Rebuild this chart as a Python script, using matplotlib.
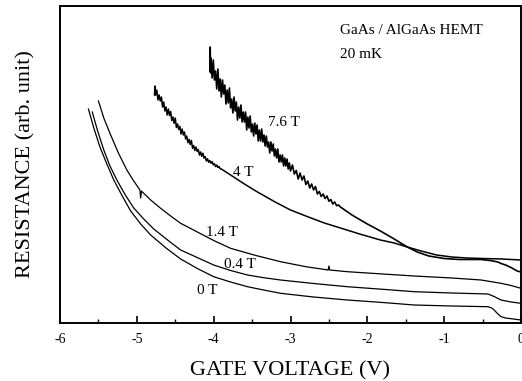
import matplotlib as mpl
mpl.use('Agg')
import matplotlib.pyplot as plt
import matplotlib.ticker as tick

# ---- data (gate voltage [V], resistance [arb.]) ----
v_0T = [-5.63, -5.56, -5.48, -5.39, -5.30, -5.19, -5.08, -4.95, -4.82, -4.62, -4.43, -4.20, -4.00,
        -3.78, -3.56, -3.35, -3.13, -2.70, -2.26, -1.80, -1.39, -0.90, -0.43, -0.38, -0.35,
        -0.30, -0.26, -0.20, -0.10, 0.0]
r_0T = [214, 195, 176, 159, 143, 127, 112, 99, 88, 75, 64, 54, 46.3,
        41, 36.3, 33, 29.7, 26, 23, 20.5, 18, 17, 16.3, 15, 13,
        9, 6.3, 5, 4, 3]

v_04T = [-5.58, -5.51, -5.43, -5.35, -5.26, -5.15, -5.04, -4.91, -4.78, -4.60, -4.43, -4.20, -4.00,
         -3.78, -3.56, -3.35, -3.13, -2.70, -2.26, -1.80, -1.39, -0.90, -0.43, -0.35, -0.26,
         -0.13, 0.0]
r_04T = [211, 192, 173, 157, 143, 128, 115, 104, 94, 83, 73, 65, 58,
         52.5, 48, 45.3, 43, 39.5, 36.3, 33.7, 31.3, 30, 29, 26.5, 23,
         21, 19.7]

v_14T = [-5.50, -5.43, -5.35, -5.24, -5.13, -5.04, -4.96, -4.95, -4.94, -4.82, -4.69, -4.56,
         -4.43, -4.22, -4.00, -3.78, -3.45, -3.13, -2.80, -2.51, -2.50, -2.49, -2.26, -1.80,
         -1.39, -0.90, -0.52, -0.26, -0.13, 0.0]
r_14T = [222, 205, 189.7, 170, 153, 142, 133, 125, 132, 123, 114.7, 107,
         99.7, 91.3, 82.5, 74.7, 67.5, 61.3, 56.3, 53, 57, 53, 51.3, 49,
         47, 45, 43, 39.7, 37.5, 34.7]

v_4T = [-4.770, -4.765, -4.755, -4.740, -4.725, -4.710, -4.695, -4.680, -4.665, -4.650, -4.635, -4.620,
        -4.605, -4.590, -4.575, -4.560, -4.545, -4.530, -4.515, -4.500, -4.485, -4.470, -4.455, -4.440,
        -4.425, -4.410, -4.395, -4.380, -4.365, -4.350, -4.335, -4.320, -4.305, -4.290, -4.275, -4.260,
        -4.245, -4.230, -4.215, -4.200, -4.185, -4.170, -4.155, -4.140, -4.125, -4.110, -4.095, -4.080,
        -4.065, -4.050, -4.035, -4.020, -4.005, -3.990, -3.975, -3.960, -3.945, -3.930, -3.915, -3.900,
        -3.85, -3.80, -3.60, -3.43, -3.20, -3.00, -2.80, -2.56, -2.35, -2.10, -1.83, -1.65,
        -1.48, -1.30, -1.10, -0.90, -0.70, -0.50, -0.25, 0.0]
r_4T = [228, 237, 228, 233, 223, 228, 222, 226, 216, 221, 212, 216,
        208, 214, 207.5, 211.5, 202.5, 206, 199.7, 205, 195.5, 199, 193.5, 196.7,
        189, 194, 188, 191, 184, 187, 180.3, 183.6, 178.5, 182.6, 174.7, 177.5,
        172.5, 176, 171.6, 173.5, 167.9, 171, 166.7, 169.8, 164.8, 166.4, 162, 164.2,
        160.7, 162.5, 159.8, 161.4, 158.1, 159.3, 156.4, 158, 155.5, 156.5, 154.2, 154,
        151.5, 149, 139, 131, 121, 113, 107, 100, 95, 89, 83, 80,
        76, 72, 68, 66, 65, 64.5, 64, 63]

v_76T = [-4.050, -4.045, -4.040, -4.035, -4.020, -4.005, -3.990, -3.975, -3.960, -3.945, -3.930, -3.915,
         -3.900, -3.885, -3.870, -3.855, -3.840, -3.825, -3.810, -3.795, -3.780, -3.765, -3.750, -3.735,
         -3.720, -3.705, -3.690, -3.675, -3.660, -3.645, -3.630, -3.615, -3.600, -3.585, -3.570, -3.555,
         -3.540, -3.525, -3.510, -3.495, -3.480, -3.465, -3.450, -3.435, -3.420, -3.405, -3.390, -3.375,
         -3.360, -3.345, -3.330, -3.315, -3.300, -3.285, -3.270, -3.255, -3.240, -3.225, -3.210, -3.195,
         -3.180, -3.165, -3.150, -3.135, -3.120, -3.105, -3.090, -3.075, -3.060, -3.045, -3.030, -3.015,
         -3.000, -2.975, -2.950, -2.925, -2.900, -2.875, -2.850, -2.825, -2.800, -2.775, -2.750, -2.725,
         -2.700, -2.675, -2.650, -2.625, -2.600, -2.575, -2.550, -2.525, -2.500, -2.475, -2.450, -2.425,
         -2.400, -2.375, -2.350, -2.20, -2.00, -1.83, -1.65, -1.48, -1.35, -1.20, -1.00, -0.80,
         -0.52, -0.40, -0.30, -0.26, -0.20, -0.13, -0.05, 0.0]
r_76T = [252, 276, 250, 265, 245, 263, 243, 252, 234, 254, 232, 244,
         226, 243, 229, 238, 219, 233, 220, 235, 215, 224, 210, 226,
         212, 221, 203, 216, 205, 218, 201, 211, 201, 211, 193, 206,
         195, 207, 191, 199, 187, 200, 189, 198, 182, 193, 182, 194,
         181, 188, 177, 187, 176, 181, 170, 181, 172, 179, 167, 174,
         165, 174, 161, 168, 161, 168, 157, 165, 157, 164, 154, 160,
         152, 158, 149, 152.5, 144, 150, 143, 147, 138.5, 142, 135, 139,
         133, 136.5, 129, 131.5, 126.5, 129, 124.5, 127, 121.7, 123.5, 119, 121,
         117.3, 118, 116, 108, 99, 92, 84, 76, 71, 67, 64.5, 63.5,
         63.5, 62.5, 61, 59.5, 58, 55.5, 52, 51]

curves = [(v_0T, r_0T), (v_04T, r_04T), (v_14T, r_14T), (v_4T, r_4T), (v_76T, r_76T)]
widths = [0.9, 0.9, 0.9, 1.1, 1.2]   # noisy traces look heavier in the scan
labels = ['0 T', '0.4 T', '1.4 T', '4 T', '7.6 T']
label_v = [-4.08, -3.66, -3.89, -3.61, -3.09]
label_r = [33, 58, 91, 151, 201]

#------------------------------------------------------------------------------
plt.rcParams['font.family'] = 'Liberation Serif'
plt.rcParams['axes.unicode_minus'] = False

fig = plt.figure(figsize=(5.22, 3.81), dpi=100)
ax1 = fig.add_axes([60/522, 58/381, 461/522, 317/381])

for i, (vx, ry) in enumerate(curves):
    ax1.plot(vx, ry, color='black', linewidth=widths[i])

for i in range(len(labels)):
    ax1.text(label_v[i], label_r[i], labels[i], fontsize=11, ha='center', va='center')

ax1.text(-2.35, 293, 'GaAs / AlGaAs HEMT', fontsize=11, ha='left', va='center')
ax1.text(-2.35, 268, '20 mK', fontsize=11, ha='left', va='center')

ax1.set_xlim(-6.0, 0.0)
ax1.set_ylim(0, 317)
ax1.xaxis.set_major_locator(tick.MultipleLocator(1))
ax1.xaxis.set_minor_locator(tick.MultipleLocator(0.5))
ax1.xaxis.set_major_formatter(tick.FormatStrFormatter('%d'))
ax1.set_yticks([])
ax1.tick_params(which='major', direction='in', length=5, width=1.2, labelsize=10, pad=7)
ax1.tick_params(which='minor', direction='in', length=3, width=1.0)
for s in ax1.spines.values():
    s.set_linewidth(1.4)

ax1.set_xlabel('GATE VOLTAGE (V)', fontsize=16, labelpad=11)
ax1.set_ylabel('RESISTANCE (arb. unit)', fontsize=16, labelpad=18)

plt.savefig('out.png', dpi=100)
